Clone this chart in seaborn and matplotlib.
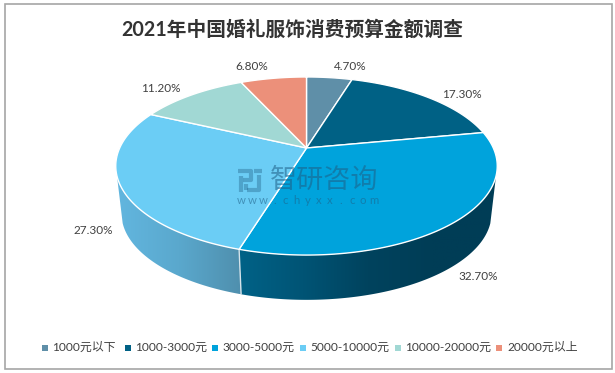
import numpy as np
import matplotlib
matplotlib.use('Agg')
import matplotlib.pyplot as plt
from matplotlib.patches import Polygon, Rectangle
import seaborn as sns

title = '2021年中国婚礼服饰消费预算金额调查'
categories = ['1000元以下', '1000-3000元', '3000-5000元', '5000-10000元', '10000-20000元', '20000元以上']
shares = [4.7, 17.3, 32.7, 27.3, 11.2, 6.8]
colors = ['#5f8fa8', '#006185', '#00a3dc', '#6bcdf5', '#a1d8d4', '#ec907a']

sns.set_theme(style='white')
plt.rcParams['font.family'] = ['Lato', 'Noto Sans CJK SC', 'DejaVu Sans']

fig = plt.figure(figsize=(6.15, 3.73), dpi=100)
ax = fig.add_axes([0, 0, 1, 1])


# tilted disc: circle seen in perspective, so the centre sits above the middle of the ellipse
def project(deg, drop=0.0, scale=1.0):
    a = np.radians(deg)
    u, v = np.sin(a), np.cos(a)
    w = 1 + 0.2023 * v
    return 306.5 + scale * 186.8 * u / w, 148 + drop - scale * 85.4 * v / w


def arc(start, end, drop=0.0, scale=1.0):
    x, y = project(np.linspace(start, end, 120), drop, scale)
    return np.column_stack([x, y])


edges = np.concatenate([[0], np.cumsum(shares)]) * 3.6
drop, scale = 48, 0.97

# side walls of the two front slices, gradient clipped to the wall shape
# the walls stop where the side of the disc turns out of view
wall_colors = {2: ['#006287', '#005475', '#00435e', '#003d56', '#003d56'],
               3: ['#62b6df', '#5aa8cd', '#4f8fad']}
for i, stops in wall_colors.items():
    start, end = max(edges[i], 108), min(edges[i + 1], 252)
    pts = np.vstack([arc(start, end), arc(end, start, drop, scale)])
    x0, x1 = pts[:, 0].min(), pts[:, 0].max()
    y0, y1 = pts[:, 1].min(), pts[:, 1].max()
    cmap = sns.blend_palette(stops, 256, as_cmap=True)
    im = ax.imshow(np.linspace(0, 1, 256)[None, :], cmap=cmap, aspect='auto',
                   extent=[x0, x1, y1, y0], zorder=1)
    im.set_clip_path(Polygon(pts, transform=ax.transData))

# seam between the two walls
seam = np.array([project(edges[3]), project(edges[3], drop, scale)])
ax.plot(seam[:, 0], seam[:, 1], color='#d5e3ea', lw=1, zorder=2)

# top face
for i, c in enumerate(colors):
    pts = np.vstack([[[306.5, 148]], arc(edges[i], edges[i + 1])])
    ax.fill(pts[:, 0], pts[:, 1], facecolor=c, edgecolor='white', lw=1, zorder=3)

# value labels
label_xy = [(350, 66), (462, 94), (478, 276), (93, 231), (161, 89), (252, 66)]
for val, (x, y) in zip(shares, label_xy):
    ax.text(x, y, f'{val:.2f}%', ha='center', va='center', fontsize=8.5, color='#404040', zorder=5)

# watermark
wm = '#1f5f86'
ax.text(324, 180, '智研咨询', ha='center', va='center', fontsize=19.5, color=wm, alpha=0.55, zorder=4)
for ch, x in zip('www.chyxx.com', np.linspace(241, 374, 13)):
    ax.text(x, 200, ch, ha='center', va='center', fontsize=8.2, color=wm, alpha=0.55, zorder=4)
for xs, ys in [([238, 251, 251, 243], [171, 171, 180, 180]),
               ([241, 241], [176, 192]), ([254, 262], [171, 171]),
               ([259, 259, 247], [175, 190, 190]), ([246, 246], [184, 190])]:
    ax.plot(xs, ys, color=wm, lw=3, alpha=0.38, solid_capstyle='butt', zorder=4)

ax.text(292, 30, title, ha='center', va='center', fontsize=14.2, fontweight='bold', color='#333333')

# legend
marker_x = [44.5, 128, 215, 303, 398, 499]
text_x = [52, 135, 222, 310, 405, 507]
for name, c, mx, tx in zip(categories, colors, marker_x, text_x):
    ax.scatter([mx], [348], marker='s', s=17, color=c, linewidths=0)
    ax.text(tx, 347.5, name, ha='left', va='center', fontsize=8.6, color='#404040')

ax.add_patch(Rectangle((4.5, 4), 607, 365, fill=False, edgecolor='#a6a6a6', lw=1.2))

ax.set_xlim(0, 615)
ax.set_ylim(373, 0)
ax.axis('off')
fig.savefig('out.png', dpi=100)
